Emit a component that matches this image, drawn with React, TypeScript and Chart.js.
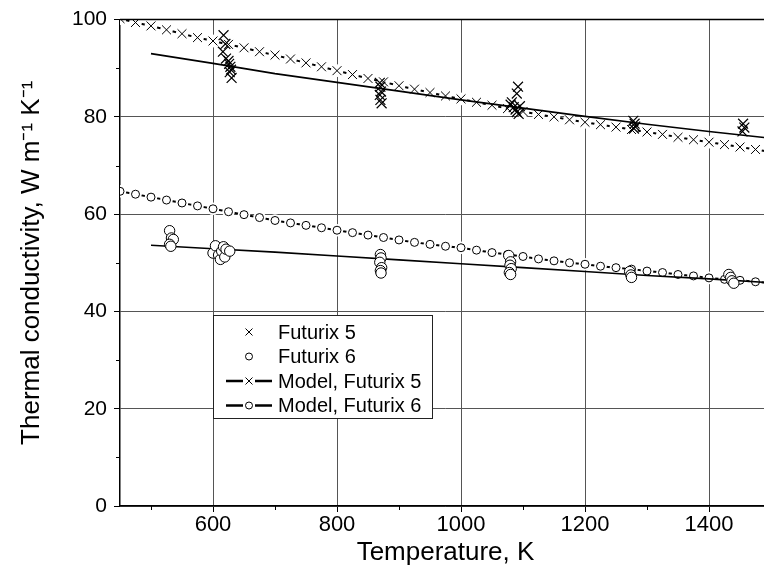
import React, { useEffect, useRef } from "react";
import { Chart, registerables } from "chart.js";
Chart.register(...registerables);

// ---------- data ----------
const modelT = [450, 475, 500, 525, 550, 575, 600, 625, 650, 675, 700, 725, 750, 775, 800, 825, 850, 875, 900, 925, 950, 975, 1000, 1025, 1050, 1075, 1100, 1125, 1150, 1175, 1200, 1225, 1250, 1275, 1300, 1325, 1350, 1375, 1400, 1425, 1450, 1475, 1500];
const modelF5 = [100.2, 99.4, 98.7, 97.9, 97.1, 96.3, 95.6, 94.9, 94.2, 93.4, 92.7, 91.9, 91.1, 90.3, 89.5, 88.7, 87.9, 87.2, 86.4, 85.7, 85.0, 84.3, 83.7, 83.0, 82.4, 81.7, 81.1, 80.5, 80.0, 79.4, 78.9, 78.4, 77.9, 77.4, 76.9, 76.4, 75.8, 75.3, 74.8, 74.3, 73.8, 73.3, 72.8];
const modelF6 = [64.7, 64.1, 63.5, 62.9, 62.3, 61.7, 61.1, 60.5, 59.9, 59.3, 58.7, 58.2, 57.7, 57.2, 56.7, 56.2, 55.7, 55.2, 54.7, 54.2, 53.8, 53.4, 53.1, 52.6, 52.1, 51.7, 51.3, 50.8, 50.4, 50.0, 49.7, 49.3, 49.0, 48.7, 48.3, 48.0, 47.6, 47.3, 46.9, 46.6, 46.4, 46.1, 45.8];

const fitT = [500, 600, 700, 800, 900, 1000, 1100, 1200, 1300, 1400, 1500];
const fitF5 = [93.0, 91.0, 88.9, 87.1, 85.3, 83.5, 81.8, 80.1, 78.5, 77.0, 75.6];
const fitF6 = [53.6, 52.9, 52.2, 51.4, 50.6, 49.8, 49.0, 48.2, 47.4, 46.7, 45.9];

const exp5T = [617, 620, 616, 621, 625, 626, 628, 629, 627, 630, 869, 870, 871, 869, 870, 872, 1092, 1090, 1082, 1080, 1085, 1088, 1090, 1093, 1095, 1278, 1280, 1281, 1279, 1455, 1457, 1454];
const exp5K = [96.8, 95.0, 93.4, 92.0, 91.5, 90.9, 90.3, 89.7, 89.2, 88.0, 87.0, 86.2, 85.2, 84.5, 83.5, 82.8, 86.2, 84.8, 83.0, 82.5, 82.0, 81.5, 81.0, 80.6, 82.2, 79.2, 78.6, 78.0, 77.6, 78.6, 77.8, 77.0];

const exp6T = [530, 533, 536, 530, 532, 600, 604, 609, 612, 614, 617, 619, 621, 627, 870, 871, 869, 872, 870, 871, 1077, 1080, 1079, 1081, 1078, 1080, 1272, 1274, 1275, 1432, 1435, 1437, 1440];
const exp6K = [56.6, 55.1, 54.8, 53.8, 53.4, 52.0, 53.5, 51.6, 50.7, 52.4, 53.3, 51.2, 52.8, 52.4, 51.7, 51.0, 50.1, 49.0, 48.4, 47.9, 51.5, 50.2, 49.5, 48.8, 48.0, 47.6, 48.2, 47.5, 47.0, 47.6, 47.0, 46.3, 45.8];

const xMajorTicks = [600, 800, 1000, 1200, 1400];
const xMinorTicks = [500, 700, 900, 1100, 1300, 1500];
const yMinorTicks = [10, 30, 50, 70, 90];

const labels = ["Futurix 5", "Futurix 6", "Model, Futurix 5", "Model, Futurix 6"];
const xTitle = "Temperature, K";
const yTitle = "Thermal conductivity, W m\u207B\u00B9 K\u207B\u00B9";

const FONT = "'Liberation Sans', Arial, sans-serif";

function zip(xs: number[], ys: number[]) {
  return xs.map((x, i) => ({ x, y: ys[i] }));
}

export default function App() {
  const ref = useRef<HTMLCanvasElement>(null);

  useEffect(() => {
    const framePlugin = {
      id: "frame",
      afterDraw(chart: any) {
        const { ctx, chartArea: a } = chart;
        const xs = chart.scales.x;
        const ys = chart.scales.y;
        ctx.save();
        ctx.strokeStyle = "#000";
        ctx.lineWidth = 1.5;
        ctx.beginPath();
        ctx.moveTo(a.left, a.top);
        ctx.lineTo(a.right + 10, a.top);
        ctx.stroke();
        ctx.lineWidth = 1;
        ctx.beginPath();
        xMinorTicks.forEach((v) => {
          const px = Math.round(xs.getPixelForValue(v)) + 0.5;
          ctx.moveTo(px, a.bottom);
          ctx.lineTo(px, a.bottom + 4);
        });
        yMinorTicks.forEach((v) => {
          const py = Math.round(ys.getPixelForValue(v)) + 0.5;
          ctx.moveTo(a.left - 4, py);
          ctx.lineTo(a.left, py);
        });
        ctx.stroke();

        // legend
        const L = 213, T = 315, R = 432, B = 418;
        ctx.fillStyle = "#fff";
        ctx.fillRect(L, T, R - L, B - T);
        ctx.strokeStyle = "#222";
        ctx.lineWidth = 1;
        ctx.strokeRect(L + 0.5, T + 0.5, R - L, B - T);
        const rows = [332, 356.5, 381, 405.5];
        const sx = 249;
        ctx.font = `20px ${FONT}`;
        ctx.textBaseline = "middle";
        ctx.textAlign = "left";
        rows.forEach((ry, i) => {
          ctx.strokeStyle = "#000";
          if (i >= 2) {
            ctx.lineWidth = 2.5;
            ctx.beginPath();
            ctx.moveTo(226, ry);
            ctx.lineTo(243, ry);
            ctx.moveTo(255, ry);
            ctx.lineTo(272, ry);
            ctx.stroke();
          }
          ctx.lineWidth = 1;
          ctx.beginPath();
          if (i % 2 === 0) {
            ctx.moveTo(sx - 3.5, ry - 3.5);
            ctx.lineTo(sx + 3.5, ry + 3.5);
            ctx.moveTo(sx + 3.5, ry - 3.5);
            ctx.lineTo(sx - 3.5, ry + 3.5);
            ctx.stroke();
          } else {
            ctx.fillStyle = "#fff";
            ctx.arc(sx, ry, 3.5, 0, Math.PI * 2);
            ctx.fill();
            ctx.stroke();
          }
          ctx.fillStyle = "#000";
          ctx.fillText(labels[i], 278, ry + 1);
        });
        ctx.restore();
      },
    };

    const chart = new Chart(ref.current!, {
      type: "scatter",
      data: {
        datasets: [
          {
            label: labels[0],
            data: zip(exp5T, exp5K),
            pointStyle: "crossRot",
            pointRadius: 7,
            pointBorderWidth: 1.2,
            borderColor: "#000",
            backgroundColor: "#000",
            order: 0,
          },
          {
            label: labels[1],
            data: zip(exp6T, exp6K),
            pointStyle: "circle",
            pointRadius: 5.2,
            pointBorderWidth: 1,
            borderColor: "#000",
            backgroundColor: "#fff",
            order: 1,
          },
          {
            label: labels[2] + " line",
            data: zip(modelT, modelF5),
            showLine: true,
            borderColor: "#000",
            borderWidth: 2,
            pointStyle: "circle",
            pointRadius: 6.4,
            pointBorderWidth: 0,
            pointBackgroundColor: "#fff",
            pointBorderColor: "#fff",
            order: 7,
          },
          {
            label: labels[2],
            data: zip(modelT, modelF5),
            showLine: false,
            pointStyle: "crossRot",
            pointRadius: 6.3,
            pointBorderWidth: 1,
            borderColor: "#000",
            order: 6,
          },
          {
            label: labels[3] + " line",
            data: zip(modelT, modelF6),
            showLine: true,
            borderColor: "#000",
            borderWidth: 2,
            pointStyle: "circle",
            pointRadius: 6.3,
            pointBorderWidth: 0,
            pointBackgroundColor: "#fff",
            pointBorderColor: "#fff",
            order: 5,
          },
          {
            label: labels[3],
            data: zip(modelT, modelF6),
            showLine: false,
            pointStyle: "circle",
            pointRadius: 4,
            pointBorderWidth: 1,
            borderColor: "#000",
            backgroundColor: "#fff",
            order: 4,
          },
          {
            label: "fit5",
            data: zip(fitT, fitF5),
            showLine: true,
            borderColor: "#000",
            borderWidth: 1.6,
            pointRadius: 0,
            order: 2,
          },
          {
            label: "fit6",
            data: zip(fitT, fitF6),
            showLine: true,
            borderColor: "#000",
            borderWidth: 1.6,
            pointRadius: 0,
            order: 3,
          },
        ],
      },
      options: {
        animation: false,
        responsive: true,
        maintainAspectRatio: false,
        layout: { padding: { left: 16, top: 15, right: 9, bottom: 10 } },
        plugins: {
          legend: { display: false },
          tooltip: { enabled: false },
        },
        scales: {
          x: {
            type: "linear",
            min: 450,
            max: 1500,
            afterBuildTicks: (s: any) => {
              s.ticks = xMajorTicks.map((v) => ({ value: v }));
            },
            afterFit: (s: any) => {
              s.height = 62;
            },
            ticks: {
              color: "#000",
              font: { family: FONT, size: 22 },
              padding: 0,
              maxRotation: 0,
              callback: (v: any) => String(v),
            },
            grid: {
              color: "#555",
              lineWidth: 1,
              tickLength: 6,
              tickColor: "#000",
            },
            border: { color: "#000", width: 1.5 },
            title: {
              display: true,
              text: xTitle,
              color: "#000",
              font: { family: FONT, size: 26 },
              padding: { top: 0, bottom: 0 },
            },
          },
          y: {
            type: "linear",
            min: 0,
            max: 100,
            ticks: {
              stepSize: 20,
              color: "#000",
              font: { family: FONT, size: 21 },
              padding: 7,
              callback: (v: any) => String(v),
            },
            afterFit: (s: any) => {
              s.width = 104;
            },
            grid: {
              color: "#555",
              lineWidth: 1,
              tickLength: 6,
              tickColor: "#000",
            },
            border: { color: "#000", width: 1.5 },
            title: {
              display: true,
              text: yTitle,
              color: "#000",
              font: { family: FONT, size: 26 },
              padding: { top: 0, bottom: 0 },
            },
          },
        },
      },
      plugins: [framePlugin],
    });
    return () => chart.destroy();
  }, []);

  return (
    <div
      style={{
        position: "fixed",
        left: 0,
        top: 0,
        width: 764,
        height: 578,
        overflow: "hidden",
        background: "#fff",
      }}
    >
      <div style={{ width: 780, height: 578 }}>
        <canvas ref={ref} />
      </div>
    </div>
  );
}
